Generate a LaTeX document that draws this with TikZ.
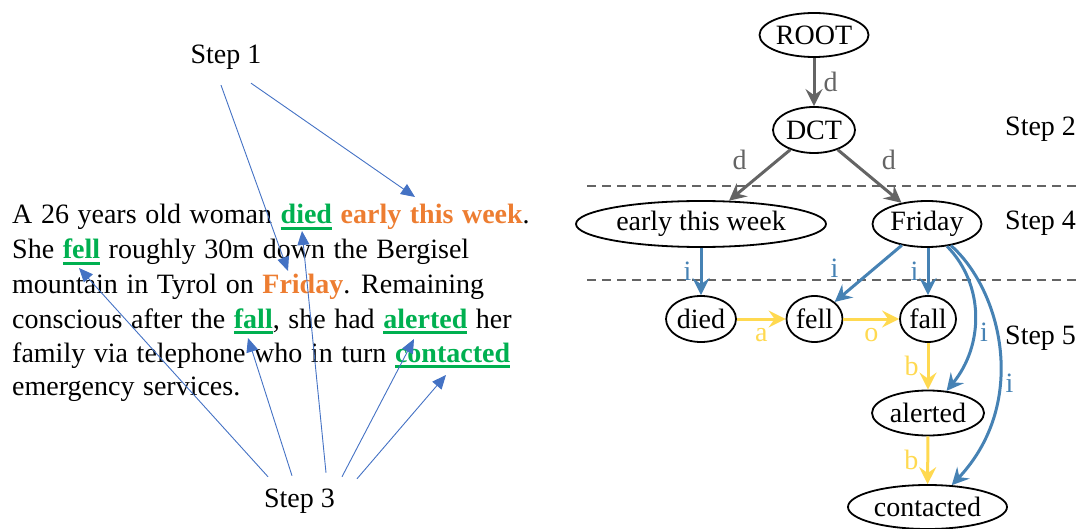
\documentclass[tikz,border=0pt]{standalone}
\usepackage{fontspec}
\setmainfont{Liberation Serif}
\usetikzlibrary{shapes.geometric,arrows.meta}
\definecolor{grn}{RGB}{0,176,80}
\definecolor{org}{RGB}{237,125,49}
\definecolor{pblue}{RGB}{68,114,196}
\definecolor{eblue}{RGB}{70,130,180}
\definecolor{egray}{RGB}{100,100,100}
\definecolor{eyel}{RGB}{255,217,80}
\newcommand\gw[1]{\setbox0\hbox{\bfseries #1}\rlap{\color{grn}\rule[-6pt]{\wd0}{2.6pt}}{\color{grn}\box0}}
\newcommand\ow[1]{\textcolor{org}{\bfseries #1}}
\tikzset{
  txt/.style={anchor=base west, inner sep=0pt, execute at begin node={\spaceskip=8.6pt\relax}},
  steplbl/.style={anchor=base, inner sep=0pt},
  ptr/.style={pblue, line width=0.9pt, -{Triangle[length=14pt,width=12pt]}},
  ell/.style={ellipse, draw, line width=1.8pt, inner sep=0pt},
  tip/.style={-{Stealth[length=17pt,width=17pt,inset=6pt]}},
  dedge/.style={egray, line width=3pt, tip},
  iedge/.style={eblue, line width=3pt, tip},
  yedge/.style={eyel, line width=3pt, tip},
  dl/.style={text=egray, inner sep=2pt},
  il/.style={text=eblue, inner sep=2pt},
  yl/.style={text=eyel, inner sep=2pt},
  sep/.style={egray, line width=1.2pt, dash pattern=on 9pt off 6pt}
}
\begin{document}
\begin{tikzpicture}[x=1pt,y=-1pt,font=\fontsize{28}{34}\selectfont]
\useasboundingbox (0,0) rectangle (1081,529);
% ---------- left: text ----------
\node[txt] (l1) at (12,224) {A 26 years old woman \gw{died} \ow{early this week}.};
\node[txt] (l2) at (12,259) {She \gw{fell} roughly 30m down the Bergisel};
\node[txt] (l3) at (12,293) {mountain in Tyrol on \ow{Friday}. Remaining};
\node[txt] (l4) at (12,328) {conscious after the \gw{fall}, she had \gw{alerted} her};
\node[txt] (l5) at (12,362) {family via telephone who in turn \gw{contacted}};
\node[txt] (l6) at (12,395) {emergency services.};
\node[steplbl] (s1) at (226,64) {Step 1};
\node[steplbl] (s3) at (299.5,507) {Step 3};
\coordinate (tEarly) at (415,197);
\coordinate (tFriday) at (288,271);
\coordinate (tFell) at (79,268);
\coordinate (tFall) at (248,338);
\coordinate (tDied) at (302,231);
\coordinate (tAlerted) at (414,339);
\coordinate (tContacted) at (446,375);
\draw[ptr] ([shift={(25,13)}]s1.south) -- (tEarly);
\draw[ptr] ([shift={(-5,15)}]s1.south) -- (tFriday);
\draw[ptr] ([shift={(-31.5,-11.5)}]s3.north) -- (tFell);
\draw[ptr] ([shift={(-7.5,-12.5)}]s3.north) -- (tFall);
\draw[ptr] ([shift={(26.5,-15.5)}]s3.north) -- (tDied);
\draw[ptr] ([shift={(42.5,-11.5)}]s3.north) -- (tAlerted);
\draw[ptr] ([shift={(57.5,-9.5)}]s3.north) -- (tContacted);
% ---------- right: graph ----------
\coordinate (d1a) at (587,186);
\coordinate (d1b) at (1081,186);
\coordinate (d2a) at (587,280);
\coordinate (d2b) at (1081,280);
\draw[sep] (d1a) -- (d1b);
\draw[sep] (d2a) -- (d2b);
\node[ell, minimum width=109pt, minimum height=44pt] (root) at (814,35) {ROOT};
\node[ell, minimum width=82pt, minimum height=46pt] (dct) at (814,130) {DCT};
\node[ell, minimum width=250pt, minimum height=46pt] (early) at (701,224) {early this week};
\node[ell, minimum width=109pt, minimum height=46pt] (fri) at (927,224) {Friday};
\node[ell, minimum width=70pt, minimum height=46pt] (died) at (701,319) {died};
\node[ell, minimum width=56pt, minimum height=46pt] (fell) at (814.5,319) {fell};
\node[ell, minimum width=56pt, minimum height=46pt] (fall) at (928,319) {fall};
\node[ell, minimum width=112pt, minimum height=45pt] (alert) at (928,413) {alerted};
\node[ell, minimum width=159pt, minimum height=44pt] (cont) at (927.5,507) {contacted};
\node[anchor=base west, inner sep=0pt] (st2) at (1005,136) {Step 2};
\node[anchor=base west, inner sep=0pt] (st4) at (1005,230) {Step 4};
\node[anchor=base west, inner sep=0pt] (st5) at (1005,344) {Step 5};
\draw[dedge] (root) -- node[dl, right=6pt] {d} (dct);
\draw[dedge] (dct) -- node[dl, pos=0.2, left=28pt] {d} (early);
\draw[dedge] (dct) -- node[dl, pos=0.2, right=28pt] {d} (fri);
\draw[iedge] (early) -- node[il, left=6pt] {i} (died);
\draw[iedge] (fri) -- node[il, pos=0.4, left=33pt] {i} (fell);
\draw[iedge] (fri.south -| fall.north) -- node[il, left=6pt] {i} (fall);
\draw[iedge] (fri.312) .. controls +(38,39) and +(37,-45) .. node[il, pos=0.6, right=3pt] {i} (alert.50);
\draw[iedge] (fri.318) .. controls +(50,44) and +(78,-83) .. node[il, pos=0.62, right=3pt] {i} (cont.42);
\draw[yedge] (died) -- node[yl, below=6pt] {a} (fell);
\draw[yedge] (fell) -- node[yl, below=6pt] {o} (fall);
\draw[yedge] (fall) -- node[yl, left=6pt] {b} (alert);
\draw[yedge] (alert) -- node[yl, left=6pt] {b} (cont);
\end{tikzpicture}
\end{document}
